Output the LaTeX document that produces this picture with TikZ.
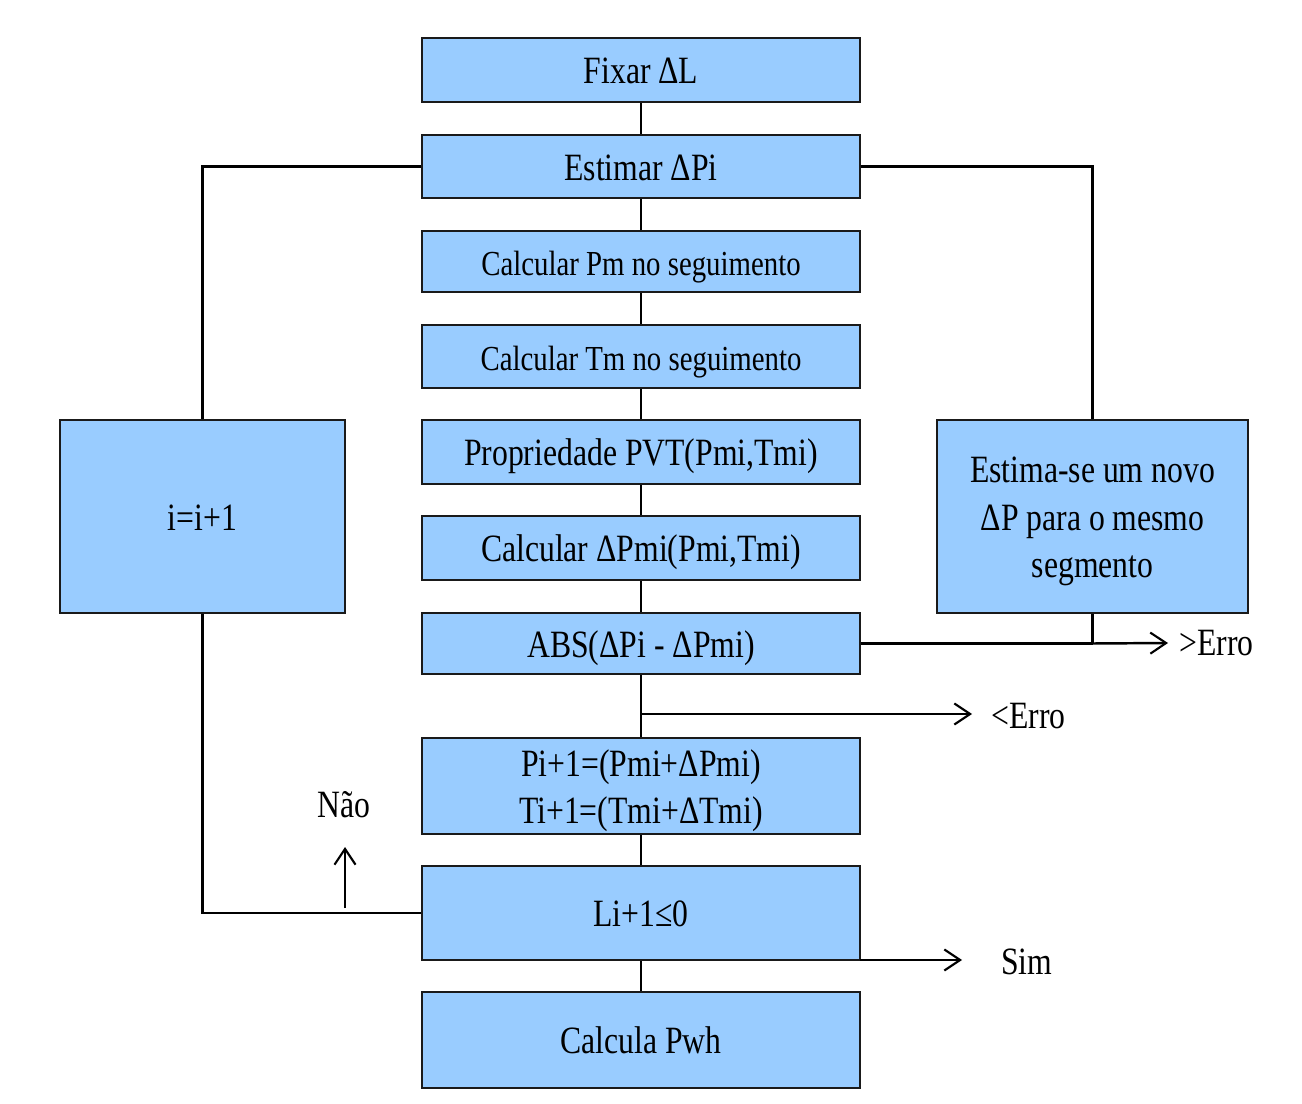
\documentclass[tikz,border=0pt]{standalone}
\usepackage{fontspec}
\setmainfont[FakeStretch=0.82]{Liberation Serif}
\usetikzlibrary{arrows.meta}
\definecolor{boxfill}{HTML}{99CCFF}
\definecolor{boxline}{HTML}{1A1A1A}
\begin{document}
\begin{tikzpicture}[x=0.02cm,y=-0.02cm,
  flowbox/.style={draw=boxline, line width=1.5pt, fill=boxfill, inner sep=0pt,
    minimum width=8.76cm, align=center, text height=20pt, text depth=4.2pt,
    font=\fontsize{22}{27}\selectfont},
  smallbox/.style={flowbox, font=\fontsize{20}{24}\selectfont},
  conn/.style={line width=1.4pt, draw=black},
  arr/.style={conn, -{Straight Barb[length=9pt,width=12pt,line width=1.2pt]}},
  lbl/.style={font=\fontsize{22}{26.5}\selectfont, inner sep=0pt}]
\useasboundingbox (0,0) rectangle (1302,1104);
\fill[white] (0,0) rectangle (1302,1104);

\node[flowbox, minimum height=1.28cm] (fix) at (641,70) {Fixar ΔL};
\node[flowbox, minimum height=1.26cm] (est) at (641,166.5) {Estimar ΔPi};
\node[smallbox, minimum height=1.22cm] (cpm) at (641,261.5) {Calcular Pm no seguimento};
\node[smallbox, minimum height=1.26cm] (ctm) at (641,356.5) {Calcular Tm no seguimento};
\node[flowbox, minimum height=1.28cm] (pvt) at (641,452) {Propriedade PVT(Pmi,Tmi)};
\node[flowbox, minimum height=1.28cm] (dpm) at (641,548) {Calcular ΔPmi(Pmi,Tmi)};
\node[flowbox, minimum height=1.22cm] (abs) at (641,643.5) {ABS(ΔPi - ΔPmi)};
\node[flowbox, minimum height=1.92cm, text height=47pt] (pi) at (641,786) {Pi+1=(Pmi+ΔPmi)\\Ti+1=(Tmi+ΔTmi)};
\node[flowbox, minimum height=1.88cm] (li) at (641,913) {Li+1≤0};
\node[flowbox, minimum height=1.92cm] (pwh) at (641,1040) {Calcula Pwh};
\node[flowbox, minimum width=5.7cm, minimum height=3.86cm] (left) at (202.5,516.5) {i=i+1};
\node[flowbox, minimum width=6.22cm, minimum height=3.86cm, text height=74pt] (right) at (1092.5,516.5) {Estima-se um novo\\ΔP para o mesmo\\segmento};

% vertical chain
\draw[conn] (fix.south) -- (est.north);
\draw[conn] (est.south) -- (cpm.north);
\draw[conn] (cpm.south) -- (ctm.north);
\draw[conn] (ctm.south) -- (pvt.north);
\draw[conn] (pvt.south) -- (dpm.north);
\draw[conn] (dpm.south) -- (abs.north);
\draw[conn] (abs.south) -- (pi.north);
\draw[conn] (pi.south) -- (li.north);
\draw[conn] (li.south) -- (pwh.north);

% loops
\draw[conn] (est.west) -| (left.north);
\draw[conn] (left.south) |- (li.west);
\draw[conn] (est.east) -| (right.north);

% >Erro
\coordinate (c1) at (right.south |- abs.east);
\coordinate (gtend) at (1168,643);
\draw[conn] (right.south) -- (c1);
\draw[conn] (abs.east) -- (c1);
\draw[arr] (c1) -- (gtend);
\node[lbl, anchor=west] (gt) at (1179,643) {>Erro};

% <Erro
\coordinate (c2) at (641,714);
\coordinate (ltend) at (972,714);
\draw[arr] (c2) -- (ltend);
\node[lbl, anchor=west] (lt) at (991,716) {<Erro};

% Sim
\coordinate (simstart) at (860,960);
\coordinate (simend) at (962,960);
\draw[arr] (simstart) -- (simend);
\node[lbl, anchor=west] (sim) at (1001,962) {Sim};

% Nao
\coordinate (nao1) at (345,908);
\coordinate (nao2) at (345,847);
\draw[arr] (nao1) -- (nao2);
\node[lbl] (nao) at (344,805) {Não};
\end{tikzpicture}
\end{document}
